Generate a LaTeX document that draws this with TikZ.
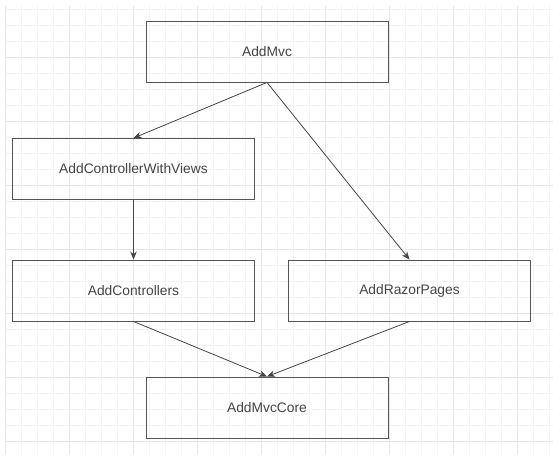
\documentclass[tikz,border=0pt]{standalone}
\usepackage{fontspec}
\setmainfont{Liberation Sans}
\usetikzlibrary{arrows.meta}
\definecolor{gridminor}{HTML}{F3F3F3}
\definecolor{gridmajor}{HTML}{E6E6E6}
\definecolor{boxline}{HTML}{555555}
\definecolor{textgray}{HTML}{444444}

\begin{document}
\begin{tikzpicture}[x=1pt,y=-1pt,
        method/.style={draw=boxline,line width=0.9pt,minimum width=242pt,minimum height=61pt,
            inner sep=0pt,text=textgray,font=\fontsize{13.8}{16}\selectfont},
        calls/.style={draw=boxline!80!black,line width=0.8pt,-{Stealth[length=8pt,width=6.5pt]}}]
        \useasboundingbox (0,0) rectangle (560,466);
        % background grid
        \foreach \k in {0,...,34}
            \draw[gridminor,line width=0.8pt] (5.7+16*\k,6) -- (5.7+16*\k,455);
        \foreach \k in {0,...,27}
            \draw[gridminor,line width=0.8pt] (5,9.7+16*\k) -- (553,9.7+16*\k);
        \foreach \k in {0,...,8}
            \draw[gridmajor,line width=0.9pt] (5.7+64*\k,6) -- (5.7+64*\k,455);
        \foreach \k in {0,...,6}
            \draw[gridmajor,line width=0.9pt] (5,57.7+64*\k) -- (553,57.7+64*\k);
        % methods
        \node[method] (mvc) at (267,51.5) {AddMvc};
        \node[method] (views) at (133.5,169) {AddControllerWithViews};
        \node[method] (ctrl) at (133.5,290.5) {AddControllers};
        \node[method] (razor) at (409.5,290.5) {AddRazorPages};
        \node[method] (core) at (267,407.5) {AddMvcCore};
        % calls
        \draw[calls] (mvc.south) -- (views.north);
        \draw[calls] (mvc.south) -- (razor.north);
        \draw[calls] (views.south) -- (ctrl.north);
        \draw[calls] (ctrl.south) -- (core.north);
        \draw[calls] (razor.south) -- (core.north);
    \end{tikzpicture}
\end{document}
